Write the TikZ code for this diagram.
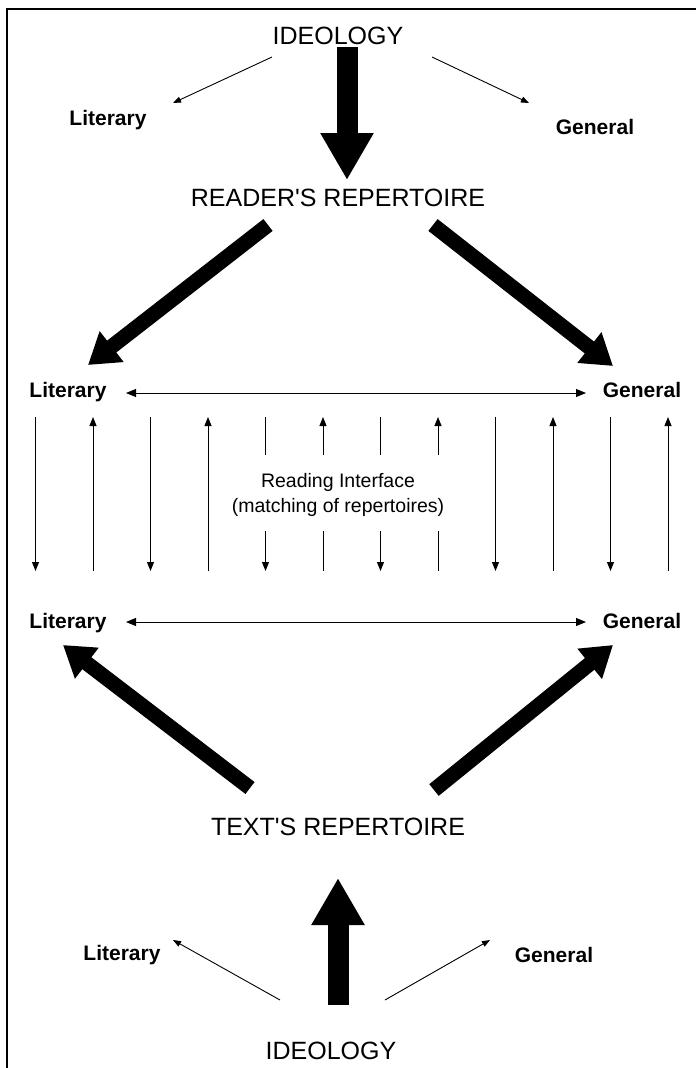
\documentclass[tikz,border=0pt]{standalone}
\usepackage{fontspec}
\setmainfont{Liberation Sans}[Ligatures=TeXOff]
\usetikzlibrary{arrows.meta}
\begin{document}
\begin{tikzpicture}[x=1pt,y=-1pt,
  title/.style={font=\fontsize{25}{30}\selectfont, inner sep=0pt, anchor=base},
  lab/.style={font=\bfseries\fontsize{21}{25}\selectfont, inner sep=0pt, anchor=base},
  iface/.style={font=\fontsize{19.5}{24.5}\selectfont, inner sep=0pt, align=center},
  thinarrow/.style={line width=0.9pt, -{Triangle[length=8pt,width=6pt]}},
  varrow/.style={line width=1pt, -{Triangle[length=9pt,width=7pt]}},
  vline/.style={line width=1pt},
  harrow/.style={line width=1pt, {Triangle[length=10pt,width=8pt]}-{Triangle[length=10pt,width=8pt]}},
  bigarrow/.style={line width=21pt, line cap=butt, -{Triangle[length=47pt,width=50pt]}},
  diagarrow/.style={line width=15pt, line cap=butt, -{Triangle[length=30pt,width=37pt]}}
]
\useasboundingbox (0,0) rectangle (696,1068);
\fill[white] (0,0) rectangle (696,1068);
% frame (top and left only)
\draw[line width=2pt] (7,1068) -- (7,9) -- (696,9);

% nodes
\node[title] (ideoT) at (338,44) {IDEOLOGY};
\node[lab] (litT) at (108,125) {Literary};
\node[lab] (genT) at (595,134) {General};
\node[title] (readerR) at (338,206) {READER'S REPERTOIRE};
\node[lab] (litR) at (68,397) {Literary};
\node[lab] (genR) at (642,397) {General};
\node[iface] (iface) at (338,495) {Reading Interface\\(matching of repertoires)};
\node[lab] (litX) at (68,628) {Literary};
\node[lab] (genX) at (642,628) {General};
\node[title] (textR) at (338,835) {TEXT'S REPERTOIRE};
\node[lab] (litB) at (122,960) {Literary};
\node[lab] (genB) at (554,962) {General};
\node[title] (ideoB) at (331,1059) {IDEOLOGY};

% connector end points
\coordinate (a1s) at (272,57);  \coordinate (a1e) at (173,103);
\coordinate (a2s) at (432,57);  \coordinate (a2e) at (529,103);
\coordinate (b1s) at (347,47);  \coordinate (b1e) at (347,180);
\coordinate (c1s) at (268,225); \coordinate (c1e) at (88,365);
\coordinate (c2s) at (433,225); \coordinate (c2e) at (613,366);
\coordinate (h1l) at (126,393); \coordinate (h1r) at (586,393);
\coordinate (h2l) at (126,622); \coordinate (h2r) at (586,622);
\coordinate (d1s) at (250,788); \coordinate (d1e) at (63,645);
\coordinate (d2s) at (434,790); \coordinate (d2e) at (613,645);
\coordinate (e1s) at (338,1005); \coordinate (e1e) at (338,878);
\coordinate (f1s) at (280,1000); \coordinate (f1e) at (173,940);
\coordinate (f2s) at (385,1000); \coordinate (f2e) at (490,940);

% top section
\draw[thinarrow] (a1s) -- (a1e);
\draw[thinarrow] (a2s) -- (a2e);
\draw[bigarrow] (b1s) -- (b1e);
\draw[diagarrow] (c1s) -- (c1e);
\draw[diagarrow] (c2s) -- (c2e);

% interface
\draw[harrow] (h1l) -- (h1r);
\draw[harrow] (h2l) -- (h2r);
\foreach \i in {0,...,11} {
  \pgfmathsetmacro\xx{35.5+57.5*\i}
  \coordinate (vt\i) at (\xx,417);
  \coordinate (vm\i) at (\xx,455);
  \coordinate (vn\i) at (\xx,531);
  \coordinate (vb\i) at (\xx,571);
}
\foreach \i in {0,2,8,10} \draw[varrow] (vt\i) -- (vb\i);
\foreach \i in {1,3,9,11} \draw[varrow] (vb\i) -- (vt\i);
\foreach \i in {4,6} {
  \draw[vline] (vt\i) -- (vm\i);
  \draw[varrow] (vn\i) -- (vb\i);
}
\foreach \i in {5,7} {
  \draw[varrow] (vm\i) -- (vt\i);
  \draw[vline] (vn\i) -- (vb\i);
}

% bottom section
\draw[diagarrow] (d1s) -- (d1e);
\draw[diagarrow] (d2s) -- (d2e);
\draw[bigarrow] (e1s) -- (e1e);
\draw[thinarrow] (f1s) -- (f1e);
\draw[thinarrow] (f2s) -- (f2e);
\end{tikzpicture}
\end{document}
